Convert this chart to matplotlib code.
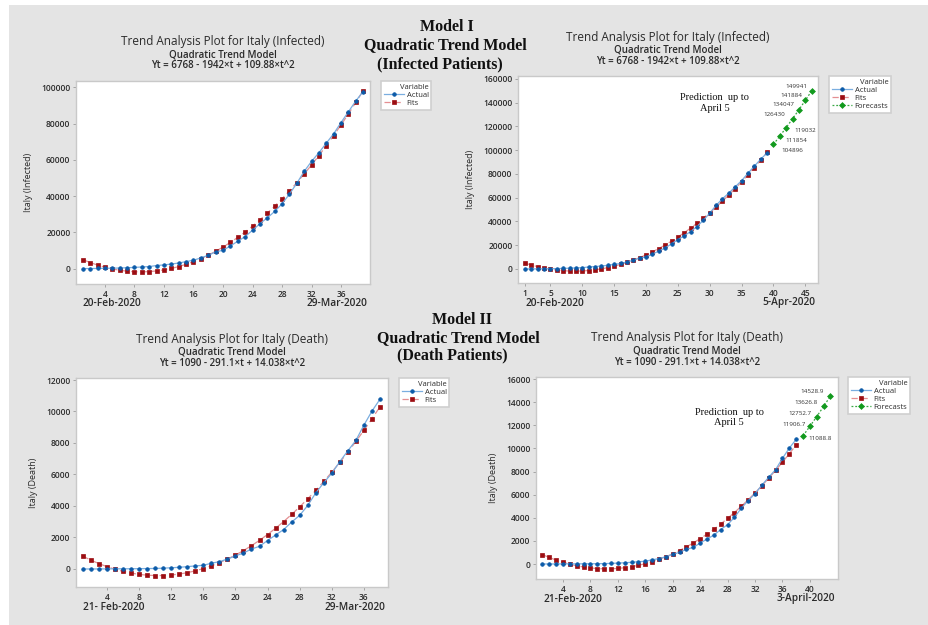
import matplotlib
matplotlib.use("Agg")
import matplotlib.pyplot as plt
from matplotlib.patches import Rectangle

# ---- data ----
inf_t = list(range(1, 40))
inf_actual = [3, 20, 79, 157, 229, 323, 470, 655, 888, 1128, 1694, 2036, 2502, 3089,
              3858, 4636, 5883, 7375, 9172, 10149, 12462, 15113, 17660, 21157, 24747,
              27980, 31506, 35713, 41035, 47021, 53578, 59138, 63927, 69176, 74386,
              80589, 86498, 92472, 97689]
inf_fits = [4936, 3324, 1931, 758, -195, -928, -1442, -1736, -1810, -1664, -1299, -713,
            92, 1116, 2361, 3825, 5509, 7413, 9537, 11880, 14443, 17226, 20229, 23451,
            26893, 30555, 34437, 38538, 42859, 47400, 52161, 57141, 62341, 67761, 73401,
            79260, 85340, 91639, 98157]
inf_fc_t = [40, 41, 42, 43, 44, 45, 46]
inf_fc = [104896, 111854, 119032, 126430, 134047, 141884, 149941]
inf_fc_labels = ["104896", "111854", "119032", "126430", "134047", "141884", "149941"]

dth_t = list(range(1, 39))
dth_actual = [1, 2, 3, 7, 10, 12, 17, 21, 29, 34, 52, 79, 107, 148, 197, 233, 366, 463,
              631, 827, 1016, 1266, 1441, 1809, 2158, 2503, 2978, 3405, 4032, 4825, 5476,
              6077, 6820, 7503, 8165, 9134, 10023, 10779]
dth_fits = [812.9, 564.0, 343.0, 150.2, -14.6, -151.2, -259.8, -340.4, -392.8, -417.2,
            -413.5, -381.7, -321.9, -234.0, -118.0, 26.1, 198.3, 398.5, 626.8, 883.2,
            1167.7, 1480.2, 1820.8, 2189.5, 2586.3, 3011.1, 3464.0, 3945.0, 4454.1,
            4991.2, 5556.4, 6149.7, 6771.1, 7420.5, 8098.1, 8803.6, 9537.3, 10299.1]
dth_fc_t = [39, 40, 41, 42, 43]
dth_fc = [11088.8, 11906.7, 12752.7, 13626.8, 14528.9]
dth_fc_labels = ["11088.8", "11906.7", "12752.7", "13626.8", "14528.9"]

W, H = 929, 625
SANS = "Open Sans"
SERIF = "Liberation Serif"
TXT = "#2b2b2b"

fig = plt.figure(figsize=(W / 100, H / 100), dpi=100)
fig.patch.set_facecolor("white")
fig.patches.append(Rectangle((9 / W, 0), 1 - 9 / W, 1 - 5 / H, transform=fig.transFigure,
                             facecolor="#e4e4e4", edgecolor="none", zorder=-10))


def fx(px):
    return px / W


def fy(py):
    return 1 - py / H


def panel(box, xlim, ylim, xticks, yticks, t, actual, fits, ylabel, title, eq,
          date_l, date_r, legend_xy, fc_t=None, fc=None):
    l, r, top, bot = box
    ax = fig.add_axes([fx(l), fy(bot), (r - l) / W, (bot - top) / H])
    ax.set_facecolor("white")
    ax.plot(t, actual, color="#7aaee0", lw=0.9, marker="o", ms=2.6, mew=0.5,
            mfc="#0b5aa8", mec="#0b5aa8", label="Actual", zorder=3)
    ax.plot(t, fits, color="#e48f92", lw=0.9, ls=(0, (5, 3)), marker="s", ms=3.2, mew=0.5,
            mfc="#9c0d12", mec="#9c0d12", label="Fits", zorder=2)
    if fc is not None:
        ax.plot(fc_t, fc, color="#3aa845", lw=0.9, ls=(0, (1.5, 1.5)), marker="D", ms=3.0,
                mew=0.5, mfc="#129a1e", mec="#129a1e", label="Forecasts", zorder=3)
    ax.set_xlim(*xlim)
    ax.set_ylim(*ylim)
    ax.set_xticks(xticks)
    ax.set_yticks(yticks)
    ax.tick_params(labelsize=6, colors="#9a9a9a", labelcolor=TXT, length=2.5, width=0.6, pad=1.5)
    for lab in ax.get_xticklabels() + ax.get_yticklabels():
        lab.set_fontweight("semibold")
        lab.set_family(SANS)
    for s in ax.spines.values():
        s.set_color("#c9c9c9")
        s.set_linewidth(1.0)
    ax.set_ylabel(ylabel, fontsize=6.5, family=SANS, color=TXT, labelpad=6)
    cx = (l + r) / 2
    fig.text(fx(cx), fy(top - 39), title, ha="center", va="center", fontsize=8.5,
             family=SANS, color=TXT)
    fig.text(fx(cx), fy(top - 26), "Quadratic Trend Model", ha="center", va="center",
             fontsize=7, family=SANS, fontweight="semibold", color=TXT)
    fig.text(fx(cx), fy(top - 15), eq, ha="center", va="center", fontsize=7,
             family=SANS, fontweight="semibold", color=TXT)
    fig.text(fx(l + 7), fy(bot + 20), date_l, ha="left", va="center", fontsize=7.3,
             family=SANS, fontweight="semibold", color=TXT)
    fig.text(fx(r - 3), fy(bot + 20), date_r, ha="right", va="center", fontsize=7.3,
             family=SANS, fontweight="semibold", color=TXT)
    leg = ax.legend(loc="upper left", bbox_to_anchor=(fx(legend_xy[0]), fy(legend_xy[1])),
                    bbox_transform=fig.transFigure, borderaxespad=0, fancybox=False,
                    edgecolor="#cfcfcf", framealpha=1, title="Variable",
                    title_fontsize=5.5, handlelength=2.6, handletextpad=0.4,
                    labelspacing=0.1, borderpad=0.35,
                    prop={"family": SANS, "size": 5.5})
    leg.get_title().set_family(SANS)
    leg.get_title().set_color(TXT)
    leg.get_frame().set_linewidth(1.2)
    for tx in leg.get_texts():
        tx.set_color(TXT)
    leg._legend_box.align = "right"
    return ax


# top left: infected, fitted
panel((76, 370, 81, 284), (0.07, 39.93), (-8500, 103500), range(4, 37, 4),
      range(0, 100001, 20000), inf_t, inf_actual, inf_fits, "Italy (Infected)",
      "Trend Analysis Plot for Italy (Infected)", "Yt = 6768 - 1942\u00d7t + 109.88\u00d7t^2",
      "20-Feb-2020", "29-Mar-2020", (381, 81))

# top right: infected, with forecasts
ax2 = panel((518, 818, 76, 283), (-0.1, 47.0), (-11800, 162500), [1] + list(range(5, 46, 5)),
            range(0, 160001, 20000), inf_t, inf_actual, inf_fits, "Italy (Infected)",
            "Trend Analysis Plot for Italy (Infected)", "Yt = 6768 - 1942\u00d7t + 109.88\u00d7t^2",
            "20-Feb-2020", "5-Apr-2020", (829, 76), inf_fc_t, inf_fc)
inf_offsets = [(19, -6), (17, -4), (19, -3), (-18, 4), (-16, 5), (-14, 5), (-15, 4)]
for xv, yv, s, off in zip(inf_fc_t, inf_fc, inf_fc_labels, inf_offsets):
    ax2.annotate(s, (xv, yv), xytext=off, textcoords="offset pixels", fontsize=4.5,
                 family=SANS, color="#333333", ha="center", va="center")
ax2.text(0.655, 0.87, "Prediction  up to\nApril 5", transform=ax2.transAxes, ha="center",
         va="center", fontsize=7.5, family=SERIF, color="#111111", linespacing=1.2)

# bottom left: deaths, fitted
panel((76, 388, 378, 587), (0.15, 39.0), (-1143, 12127), range(4, 37, 4),
      range(0, 12001, 2000), dth_t, dth_actual, dth_fits, "Italy (Death)",
      "Trend Analysis Plot for Italy (Death)", "Yt = 1090 - 291.1\u00d7t + 14.038\u00d7t^2",
      "21- Feb-2020", "29-Mar-2020", (399, 378))

# bottom right: deaths, with forecasts
ax4 = panel((536, 838, 377, 579), (0.07, 44.1), (-1297, 16173), range(4, 41, 4),
            range(0, 16001, 2000), dth_t, dth_actual, dth_fits, "Italy (Death)",
            "Trend Analysis Plot for Italy (Death)", "Yt = 1090 - 291.1\u00d7t + 14.038\u00d7t^2",
            "21-Feb-2020", "3-April-2020", (848, 377), dth_fc_t, dth_fc)
dth_offsets = [(17, -3), (-16, 2), (-17, 3), (-18, 4), (-18, 5)]
for xv, yv, s, off in zip(dth_fc_t, dth_fc, dth_fc_labels, dth_offsets):
    ax4.annotate(s, (xv, yv), xytext=off, textcoords="offset pixels", fontsize=4.5,
                 family=SANS, color="#333333", ha="center", va="center")
ax4.text(0.64, 0.8, "Prediction  up to\nApril 5", transform=ax4.transAxes, ha="center",
         va="center", fontsize=7.5, family=SERIF, color="#111111", linespacing=1.2)

# model headers
for txt, x, y in [("Model I", 447, 27), ("Quadratic Trend Model", 445, 45),
                  ("(Infected Patients)", 440, 64), ("Model II", 462, 320),
                  ("Quadratic Trend Model", 458, 338), ("(Death Patients)", 452, 355)]:
    fig.text(fx(x), fy(y), txt, ha="center", va="center", fontsize=11.5, family=SERIF,
             fontweight="bold", color="#111111")

fig.savefig("out.png", dpi=100, facecolor=fig.get_facecolor())
